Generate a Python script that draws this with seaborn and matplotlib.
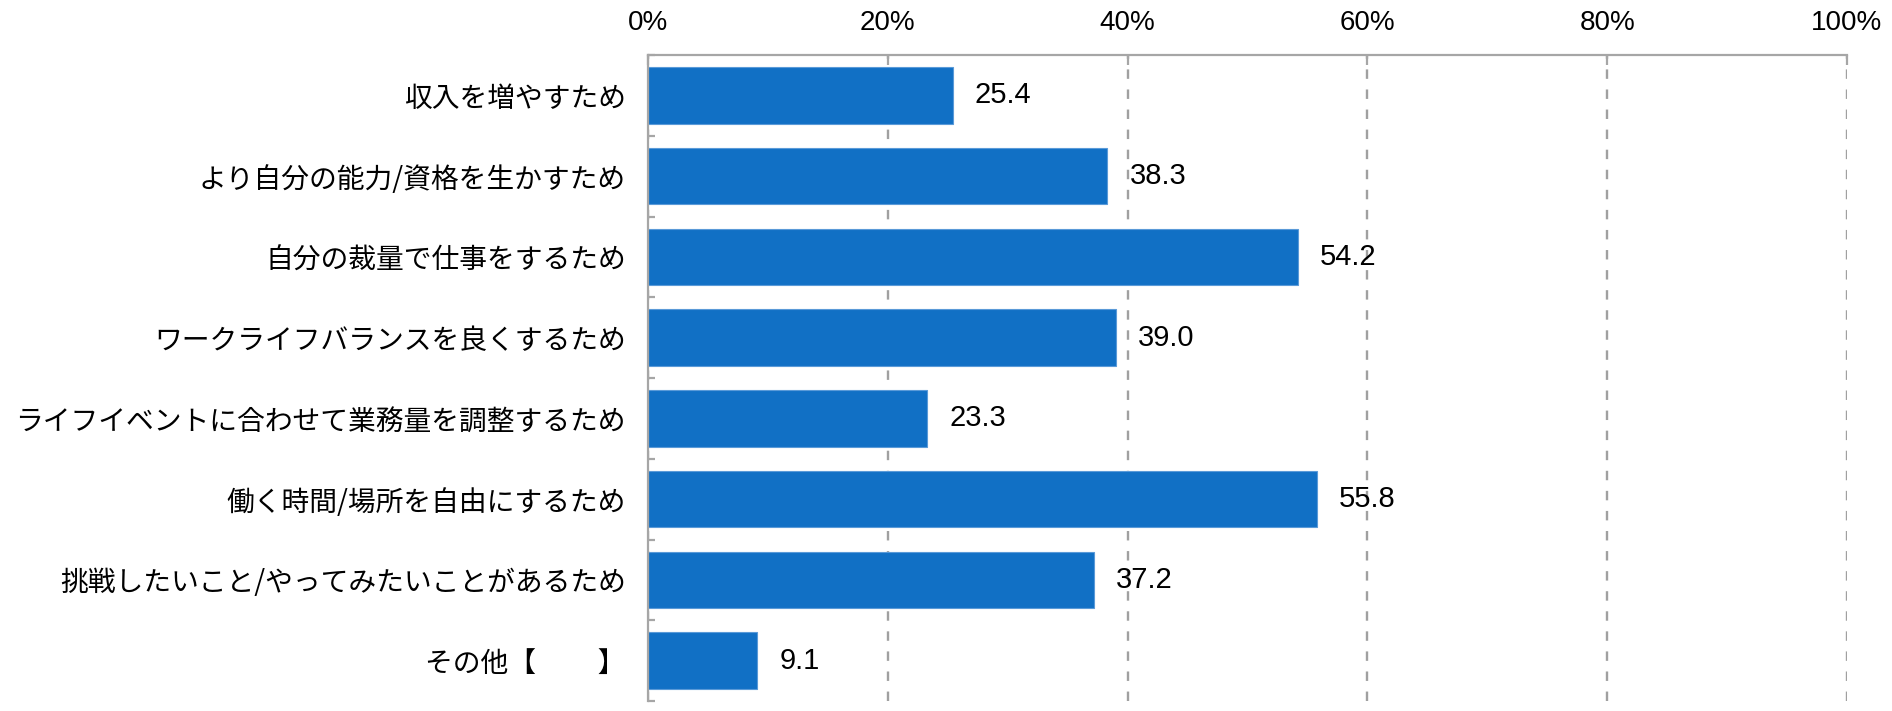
import matplotlib
matplotlib.use("Agg")
import matplotlib.pyplot as plt
import seaborn as sns
import pandas as pd
import numpy as np

categories = [
    "収入を増やすため",
    "より自分の能力/資格を生かすため",
    "自分の裁量で仕事をするため",
    "ワークライフバランスを良くするため",
    "ライフイベントに合わせて業務量を調整するため",
    "働く時間/場所を自由にするため",
    "挑戦したいこと/やってみたいことがあるため",
    "その他【　　 】",
]
values = [25.4, 38.3, 54.2, 39.0, 23.3, 55.8, 37.2, 9.1]
xticks = [0, 20, 40, 60, 80, 100]
xtick_labels = ["0%", "20%", "40%", "60%", "80%", "100%"]

sns.set_theme(style="white")
plt.rcParams['font.family'] = ['Noto Sans CJK JP', 'DejaVu Sans']
plt.rcParams['text.color'] = 'black'
plt.rcParams['xtick.labelcolor'] = 'black'
plt.rcParams['ytick.labelcolor'] = 'black'

num_family = ['Liberation Sans Narrow', 'Liberation Sans', 'DejaVu Sans']

df = pd.DataFrame({"cat": categories, "val": values})

fig = plt.figure(figsize=(18.92, 7.11), dpi=100)
ax = fig.add_axes([0.3425, 0.014, 0.9762 - 0.3425, 0.9226 - 0.014])

sns.barplot(data=df, x="val", y="cat", orient="h", color="#1170c5",
            saturation=1, width=0.7, ax=ax, edgecolor="#5a9ad8", linewidth=0.8)

ax.set_xlim(0, 100)
ax.set_ylim(len(categories) - 0.5, -0.5)
ax.set_xlabel("")
ax.set_ylabel("")

ax.xaxis.tick_top()
ax.set_xticks(xticks)
ax.set_xticklabels(xtick_labels, family=num_family, fontsize=20, color='black')
ax.tick_params(axis='x', which='major', direction='in', length=7, width=1.6,
               color='#a6a6a6', pad=14, top=True, bottom=False)

ax.set_yticks(range(len(categories)))
ax.set_yticklabels(categories, fontsize=20, color='black')
ax.tick_params(axis='y', which='major', length=0, pad=16)
ax.set_yticks(np.arange(-0.5, len(categories) + 0.5, 1), minor=True)
ax.tick_params(axis='y', which='minor', direction='in', length=5, width=1.6,
               color='#a6a6a6', left=True)

ax.grid(axis='x', color='#a0a0a0', linestyle=(0, (4, 4.5)), linewidth=1.7)
ax.grid(axis='y', visible=False)
ax.set_axisbelow(True)

for s in ['right', 'bottom']:
    ax.spines[s].set_visible(False)
for s in ['top', 'left']:
    ax.spines[s].set_color('#a6a6a6')
    ax.spines[s].set_linewidth(1.6)

for cont in ax.containers:
    ax.bar_label(cont, labels=[f"{v:.1f}" for v in values], padding=16,
                 fontsize=21, family=num_family, color='black')

fig.savefig("out.png", dpi=100)
